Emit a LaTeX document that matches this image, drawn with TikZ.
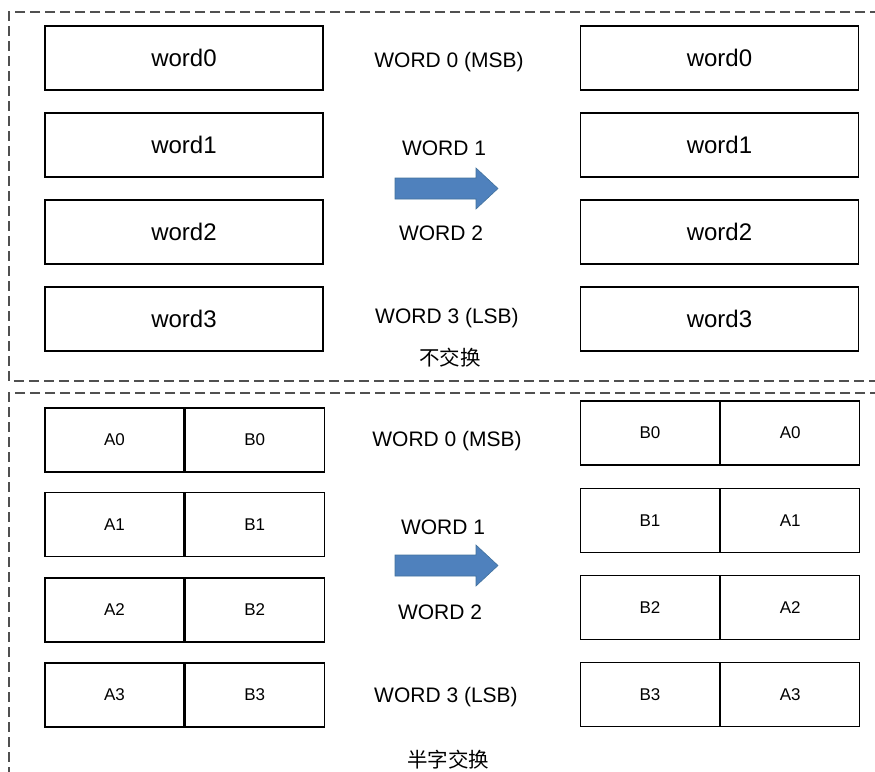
\documentclass[tikz,border=0pt]{standalone}
\usepackage{fontspec}
\setmainfont{Liberation Sans}
\newfontfamily\cjk{Noto Sans CJK SC}
\usetikzlibrary{positioning}
\definecolor{arrowblue}{HTML}{4F81BD}
\definecolor{arrowedge}{HTML}{41719C}
\definecolor{framegray}{HTML}{505050}
\tikzset{
  wordbox/.style={draw, line width=1.2pt, minimum width=278pt, minimum height=64pt,
    inner sep=0pt, font=\fontsize{24}{26}\selectfont},
  halfbox/.style={draw, line width=1.2pt, minimum width=139pt, minimum height=64pt,
    inner sep=0pt, font=\fontsize{17}{19}\selectfont},
  wordlabel/.style={inner sep=0pt, font=\fontsize{21}{23}\selectfont},
  frame/.style={draw=framegray, line width=1.1pt, dash pattern=on 10pt off 5pt},
  bigarrow/.style={fill=arrowblue, draw=arrowedge, line width=0.6pt}
}
\begin{document}
\begin{tikzpicture}[x=1pt,y=-1pt]
\useasboundingbox (0,0) rectangle (875,771);

\draw[frame] (880,12) -- (9,12) -- (9,381) -- (880,381);
\draw[frame] (880,393) -- (9,393) -- (9,780);

% no swap
\node[wordbox] (oldw0) at (184,58) {word0};
\node[wordbox] (oldw1) at (184,145) {word1};
\node[wordbox] (oldw2) at (184,232) {word2};
\node[wordbox] (oldw3) at (184,319) {word3};

\node[wordbox] (neww0) at (719.5,58) {word0};
\node[wordbox] (neww1) at (719.5,145) {word1};
\node[wordbox] (neww2) at (719.5,232) {word2};
\node[wordbox] (neww3) at (719.5,319) {word3};

\node[wordlabel] (laba0) at (449,62) {WORD 0 (MSB)};
\node[wordlabel] (laba1) at (444,148) {WORD 1};
\node[wordlabel] (laba2) at (441,233) {WORD 2};
\node[wordlabel] (laba3) at (447,318) {WORD 3 (LSB)};
\node[inner sep=0pt, font=\cjk\fontsize{20.5}{22}\selectfont] (titlea) at (450,358) {不交换};

\filldraw[bigarrow] (395,178) -- (476,178) -- (476,168) -- (498,188.5)
  -- (476,209) -- (476,199) -- (395,199) -- cycle;

% half-word swap
\node[halfbox] (la0) at (114.5,440) {A0};
\node[halfbox, right=0pt of la0] (lb0) {B0};
\node[halfbox] (la1) at (114.5,524.5) {A1};
\node[halfbox, right=0pt of la1] (lb1) {B1};
\node[halfbox] (la2) at (114.5,610) {A2};
\node[halfbox, right=0pt of la2] (lb2) {B2};
\node[halfbox] (la3) at (114.5,695) {A3};
\node[halfbox, right=0pt of la3] (lb3) {B3};

\node[halfbox] (rb0) at (650,433) {B0};
\node[halfbox, right=0pt of rb0] (ra0) {A0};
\node[halfbox] (rb1) at (650,520.5) {B1};
\node[halfbox, right=0pt of rb1] (ra1) {A1};
\node[halfbox] (rb2) at (650,607.5) {B2};
\node[halfbox, right=0pt of rb2] (ra2) {A2};
\node[halfbox] (rb3) at (650,694.5) {B3};
\node[halfbox, right=0pt of rb3] (ra3) {A3};

\node[wordlabel] (labb0) at (447,441) {WORD 0 (MSB)};
\node[wordlabel] (labb1) at (443,527) {WORD 1};
\node[wordlabel] (labb2) at (440,612) {WORD 2};
\node[wordlabel] (labb3) at (446,697) {WORD 3 (LSB)};
\node[inner sep=0pt, font=\cjk\fontsize{20.5}{22}\selectfont] (titleb) at (448,760) {半字交换};

\filldraw[bigarrow] (395,555) -- (476,555) -- (476,545) -- (498,565.5)
  -- (476,586) -- (476,576) -- (395,576) -- cycle;
\end{tikzpicture}
\end{document}
